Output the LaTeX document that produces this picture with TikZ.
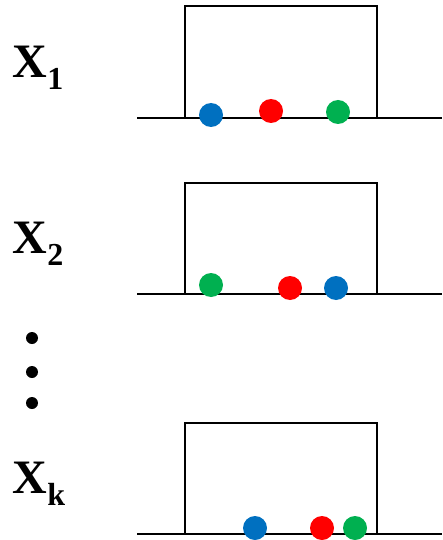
\documentclass[tikz,border=0pt]{standalone}
\usepackage{fontspec}
\setmainfont{Liberation Serif}
\usepackage{xcolor}
\definecolor{ballblue}{RGB}{0,112,192}
\definecolor{ballred}{RGB}{255,0,0}
\definecolor{ballgreen}{RGB}{0,176,80}

\begin{document}
\begin{tikzpicture}[x=1pt, y=-1pt, line width=1.6pt,
    varlabel/.style={font=\fontsize{48}{48}\selectfont\bfseries, anchor=base west, inner sep=0pt},
    ball/.style={circle, fill=#1, minimum size=24pt, inner sep=0pt}]
    \useasboundingbox (0,0) rectangle (442,540);
    % labels
    \node[varlabel] (x1) at (12,78) {X\raisebox{-12pt}{\fontsize{32}{32}\selectfont 1}};
    \node[varlabel] (x2) at (12,253) {X\raisebox{-12pt}{\fontsize{32}{32}\selectfont 2}};
    \node[varlabel] (xk) at (12,493) {X\raisebox{-12pt}{\fontsize{32}{32}\selectfont k}};
    \foreach \ydot in {338, 372, 403}
      \fill (32,\ydot) circle[radius=6pt];
    % boxes on the ground line
    \foreach \ytop/\ybase in {6/118, 183/294, 423/534} {
      \draw (137,\ybase) -- (442,\ybase);
      \draw (185,\ybase) -- (185,\ytop) -- (377,\ytop) -- (377,\ybase);
    }
    % balls
    \node[ball=ballblue] (b1) at (211,115) {};
    \node[ball=ballred] (r1) at (271,111) {};
    \node[ball=ballgreen] (g1) at (338,112) {};
    \node[ball=ballgreen] (g2) at (211,285) {};
    \node[ball=ballred] (r2) at (290,288) {};
    \node[ball=ballblue] (b2) at (336,288) {};
    \node[ball=ballblue] (bk) at (255,528) {};
    \node[ball=ballred] (rk) at (322,528) {};
    \node[ball=ballgreen] (gk) at (355,528) {};
  \end{tikzpicture}
\end{document}
